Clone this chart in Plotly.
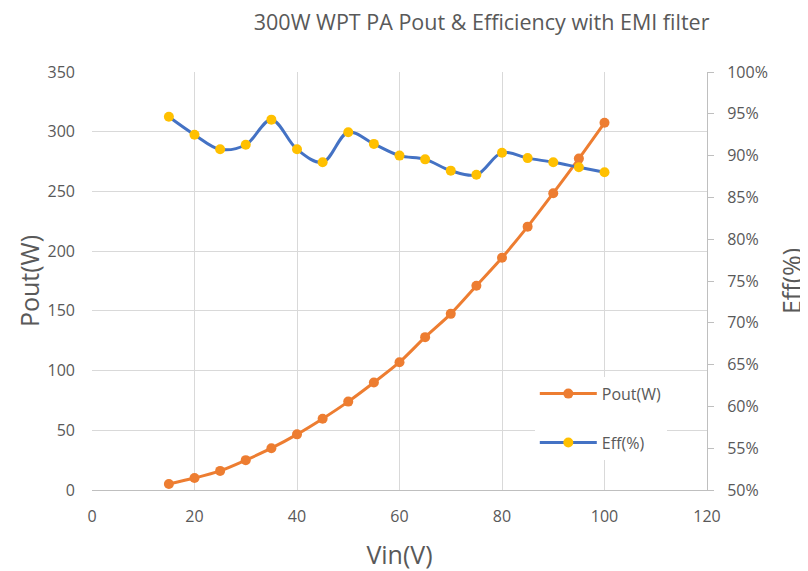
import plotly.graph_objects as go

vin = [15, 20, 25, 30, 35, 40, 45, 50, 55, 60, 65, 70, 75, 80, 85, 90, 95, 100]
pout = [5, 10, 16, 25, 35, 46.6, 59.7, 74, 90, 107, 128, 147.5, 171, 194.5, 220.5, 248.5, 277.5, 307.5]
eff = [0.9465, 0.925, 0.9075, 0.913, 0.943, 0.9075, 0.892, 0.928, 0.914, 0.900,
       0.8955, 0.882, 0.877, 0.9035, 0.897, 0.892, 0.886, 0.880]

grid = "#D9D9D9"
txt = "#595959"
font = "Open Sans"

fig = go.Figure()
fig.add_trace(go.Scatter(
    x=vin, y=pout, name="Pout(W)", mode="lines+markers",
    line=dict(color="#ED7D31", width=3, shape="spline", smoothing=0.8),
    marker=dict(color="#ED7D31", size=10),
    legendgroup="a",
))
fig.add_trace(go.Scatter(
    x=vin, y=eff, name="Eff(%)", mode="lines+markers", yaxis="y2",
    line=dict(color="#4472C4", width=3, shape="spline", smoothing=1.0),
    marker=dict(color="#FFC000", size=10),
    legendgroup="b",
))

fig.update_layout(
    width=800, height=563,
    margin=dict(l=84, r=101, t=64, b=81, autoexpand=False),
    paper_bgcolor="white", plot_bgcolor="white",
    font=dict(family=font, color=txt, size=16),
    title=dict(text="300W WPT PA Pout & Efficiency with EMI filter",
               x=0.592, xanchor="center", y=0.974, yanchor="middle", yref="container",
               font=dict(size=21.5, color=txt, family=font)),
    xaxis=dict(range=[0, 120], dtick=20, showgrid=True, gridcolor=grid, gridwidth=1,
               zeroline=False, showline=True, linecolor="#BFBFBF", linewidth=1,
               ticks="", tickfont=dict(size=16, color=txt), automargin=False,
               ticklabelstandoff=12,
               title=dict(text="Vin(V)", font=dict(size=25, color=txt), standoff=20)),
    yaxis=dict(range=[0, 350], dtick=50, showgrid=True, gridcolor=grid, gridwidth=1,
               zeroline=False, showline=False, ticks="", automargin=False,
               tickfont=dict(size=16, color=txt), ticklabelstandoff=16,
               title=dict(text="Pout(W)", font=dict(size=25, color=txt), standoff=0)),
    yaxis2=dict(range=[0.5, 1.0], dtick=0.05, tickformat=".0%", overlaying="y", side="right",
                showgrid=False, zeroline=False, showline=True, linecolor="#BFBFBF", linewidth=1,
                ticks="outside", ticklen=6, tickcolor="#BFBFBF", automargin=False,
                tickfont=dict(size=16, color=txt), ticklabelstandoff=10,
                title=dict(text="Eff(%)", font=dict(size=25, color=txt), standoff=28)),
    legend=dict(x=0.72, y=0.271, xanchor="left", yanchor="top", bgcolor="white",
                font=dict(size=16, color=txt), traceorder="grouped", tracegroupgap=25,
                itemwidth=57, entrywidth=160),
    showlegend=True,
)

fig.write_html("out.html")
